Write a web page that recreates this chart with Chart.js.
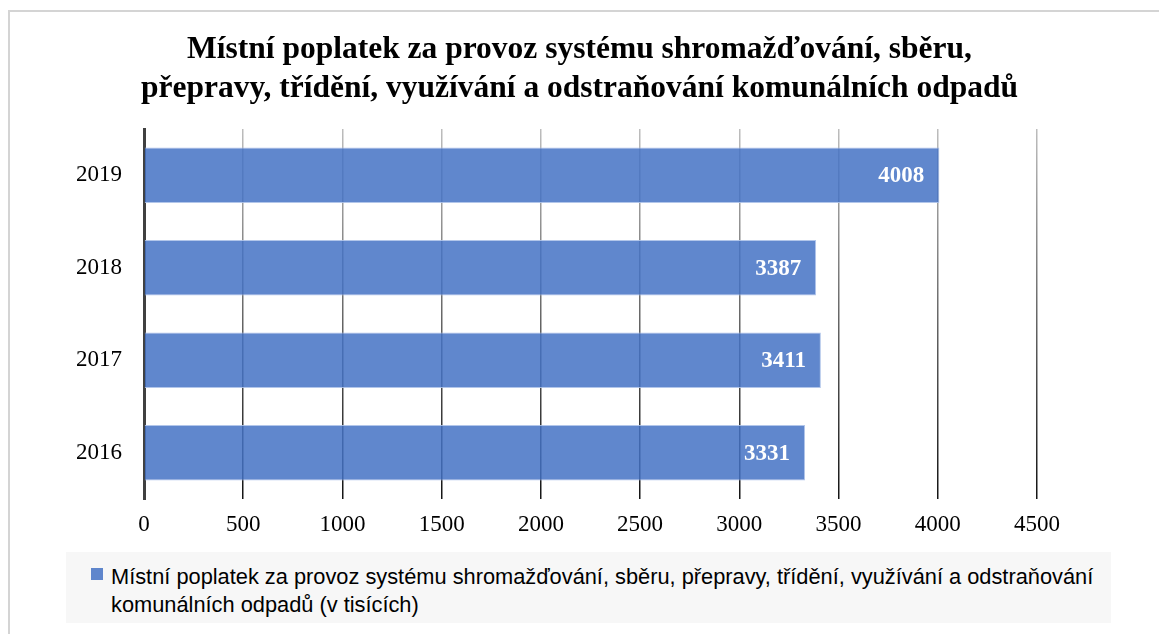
<!DOCTYPE html>
<html><head><meta charset="utf-8">
<script src="https://cdn.jsdelivr.net/npm/chart.js@4.4.1/dist/chart.umd.min.js"></script>
<style>
html,body{margin:0;padding:0;background:#fff;overflow:hidden;}
#wrap{position:relative;width:1159px;height:634px;overflow:hidden;}
#frame{position:absolute;left:8px;top:10px;width:1200px;height:700px;border:2px solid #d4d4d4;box-sizing:border-box;}
canvas{position:absolute;left:0;top:0;}
#legend{position:absolute;left:66px;top:552px;width:1045px;height:71px;background:#f7f7f7;font-family:"Liberation Sans Narrow","Liberation Sans",sans-serif;font-size:21.8px;line-height:28px;color:#000;}
#legend .mk{position:absolute;left:25px;top:16px;width:12px;height:12px;background:rgba(68,114,196,0.85);}
#legend .tx{position:absolute;left:45px;top:11px;width:1000px;}
</style></head><body>
<div id="wrap"><div id="frame"></div><canvas id="c" width="1159" height="634"></canvas><div id="legend"><span class="mk"></span><span class="tx" id="lt"></span></div></div>
<script>
const categories = ['2016', '2017', '2018', '2019'];
const values = [3331, 3411, 3387, 4008];
const xTicks = [0, 500, 1000, 1500, 2000, 2500, 3000, 3500, 4000, 4500];
const seriesName = 'Místní poplatek za provoz systému shromažďování, sběru, přepravy, třídění, využívání a odstraňování komunálních odpadů (v tisících)';
const titleLines = ['Místní poplatek za provoz systému shromažďování, sběru,', 'přepravy, třídění, využívání a odstraňování komunálních odpadů'];

document.getElementById('lt').textContent = seriesName;

const SERIF = '"Liberation Serif", "Times New Roman", serif';

function gridColor(ctx) {
  const ch = ctx.chart; const a = ch.chartArea;
  if (!a) return '#999';
  const g = ch.ctx.createLinearGradient(0, a.top, 0, a.bottom);
  g.addColorStop(0, '#bdbdbd');
  g.addColorStop(1, '#141414');
  return g;
}

const labelPlugin = {
  id: 'barLabels',
  afterDatasetsDraw(chart) {
    const ctx = chart.ctx;
    const meta = chart.getDatasetMeta(0);
    ctx.save();
    ctx.fillStyle = '#ffffff';
    ctx.font = 'bold 23px ' + SERIF;
    ctx.textAlign = 'right';
    ctx.textBaseline = 'middle';
    meta.data.forEach((bar, i) => {
      ctx.fillText(String(chart.data.datasets[0].data[i]), bar.x - 15, bar.y + 1);
    });
    ctx.restore();
  }
};

new Chart(document.getElementById('c'), {
  type: 'bar',
  data: {
    labels: categories,
    datasets: [{
      label: seriesName,
      data: values,
      backgroundColor: 'rgba(68,114,196,0.85)',
      borderColor: 'rgba(170,192,232,0.9)',
      borderWidth: 1,
      categoryPercentage: 1,
      barPercentage: 0.6
    }]
  },
  options: {
    indexAxis: 'y',
    responsive: false,
    animation: false,
    layout: { padding: 0 },
    plugins: {
      legend: { display: false },
      tooltip: { enabled: false },
      title: {
        display: true,
        text: titleLines,
        color: '#000',
        font: { family: SERIF, size: 31.5, weight: 'bold', lineHeight: 1.24 },
        padding: { top: 30.5, bottom: 20.5 }
      }
    },
    scales: {
      x: {
        min: 0, max: 4500,
        afterBuildTicks: s => { s.ticks = xTicks.map(v => ({ value: v })); },
        afterFit: s => { s.height = 135; },
        border: { display: false },
        grid: { color: gridColor, lineWidth: 1.5, drawTicks: false },
        ticks: { padding: 12.5, color: '#000', font: { family: SERIF, size: 23 }, callback: v => String(v) }
      },
      y: {
        reverse: true,
        afterFit: s => { s.width = 144; },
        border: { display: true, color: '#404040', width: 3 },
        grid: { display: false, drawTicks: false },
        ticks: { padding: 22, color: '#000', font: { family: SERIF, size: 23 } }
      },
      yRight: {
        axis: 'y',
        position: 'right',
        display: true,
        afterFit: s => { s.width = 122; },
        border: { display: false },
        grid: { display: false, drawTicks: false },
        ticks: { display: false }
      }
    }
  },
  plugins: [labelPlugin]
});
</script>
</body></html>
